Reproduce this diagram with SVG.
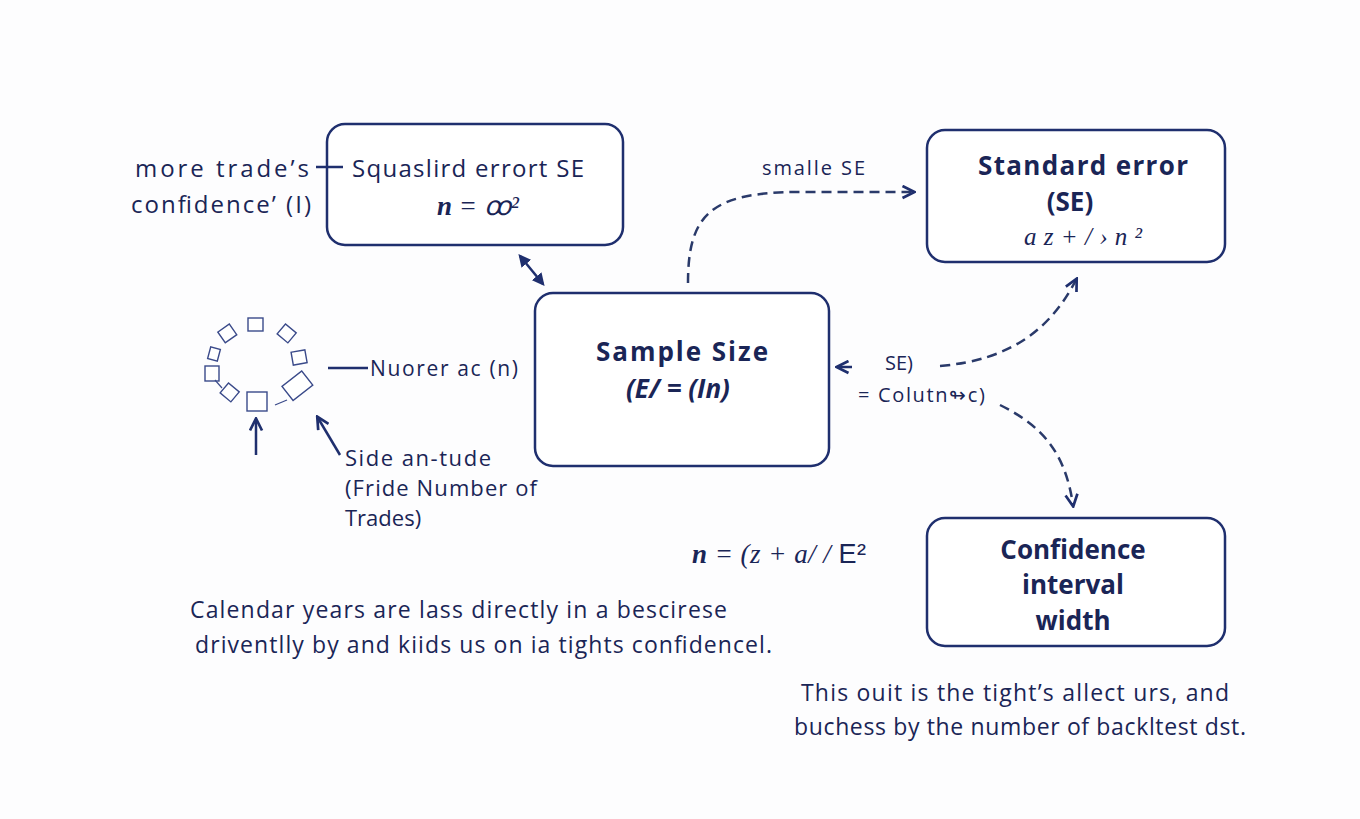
<svg xmlns="http://www.w3.org/2000/svg" width="1360" height="819" viewBox="0 0 1360 819">
<defs>
<style>
.box{fill:#fff;stroke:#1f2f6e;stroke-width:2.5}
.t{font-family:"Open Sans","Liberation Sans",sans-serif;fill:#1a2556}
.b{font-weight:bold}
.m{font-family:"Liberation Serif",serif;font-style:italic;fill:#1a2556}
.ln{fill:none;stroke:#1f2f6e;stroke-width:2.5}
.d{fill:none;stroke:#2a3a6a;stroke-width:2.5;stroke-dasharray:10 6}
.sq{fill:#fff;stroke:#3a4a8a;stroke-width:1.4}
</style>
<marker id="a" viewBox="0 0 10 10" refX="8" refY="5" markerWidth="6" markerHeight="6" orient="auto-start-reverse"><path d="M1,1 L9,5 L1,9" fill="none" stroke="#1f2f6e" stroke-width="1.8"/></marker>
<marker id="f" viewBox="0 0 10 10" refX="8" refY="5" markerWidth="5" markerHeight="5" orient="auto-start-reverse"><path d="M0,0 L10,5 L0,10 z" fill="#1f2f6e"/></marker>
</defs>
<rect width="1360" height="819" fill="#fdfdfe"/>
<g id="squares">
<rect class="sq" x="248" y="318" width="15" height="13"/>
<rect class="sq" x="220" y="327" width="14" height="13" transform="rotate(-35 227 333)"/>
<rect class="sq" x="280" y="327" width="14" height="13" transform="rotate(40 287 333)"/>
<rect class="sq" x="209" y="348" width="10" height="12" transform="rotate(15 214 354)"/>
<rect class="sq" x="292" y="351" width="14" height="13" transform="rotate(-10 299 357)"/>
<rect class="sq" x="205" y="366" width="14" height="15"/>
<rect class="sq" x="223" y="386" width="14" height="13" transform="rotate(40 230 392)"/>
<rect class="sq" x="247" y="392" width="20" height="19"/>
<rect class="sq" x="285" y="377" width="25" height="18" transform="rotate(-38 297 386)"/>
<line x1="215" y1="380" x2="222" y2="388" stroke="#3a4a8a" stroke-width="1.2"/>
<line x1="275" y1="405" x2="287" y2="400" stroke="#3a4a8a" stroke-width="1.2"/>
</g>
<g id="n1"><rect class="box" x="327" y="124" width="296" height="121" rx="18"/>
<text class="t" x="468" y="177" font-size="24" text-anchor="middle" textLength="232">Squaslird errort SE</text>
<text class="m" x="478" y="215" font-size="27" text-anchor="middle"><tspan font-weight="bold">n</tspan> = ꝏ²</text></g>
<g id="n2"><rect class="box" x="927" y="130" width="298" height="132" rx="18"/>
<text class="t b" x="1083" y="175" font-size="26" text-anchor="middle" textLength="210">Standard error</text>
<text class="t b" x="1070" y="211" font-size="26" text-anchor="middle">(SE)</text>
<text class="m" x="1083" y="245" font-size="25" text-anchor="middle" textLength="118">a z + / › n ²</text></g>
<g id="n3"><rect class="box" x="535" y="293" width="294" height="173" rx="18"/>
<text class="t b" x="682" y="361" font-size="26" text-anchor="middle" textLength="172">Sample Size</text>
<text class="t b" x="678" y="398" font-size="26" text-anchor="middle" font-style="italic">(E/ = (In)</text></g>
<g id="n4"><rect class="box" x="927" y="518" width="298" height="128" rx="18"/>
<text class="t b" x="1073" y="559" font-size="26" text-anchor="middle">Confidence</text>
<text class="t b" x="1073" y="594" font-size="26" text-anchor="middle">interval</text>
<text class="t b" x="1073" y="630" font-size="26" text-anchor="middle">width</text></g>
<g id="connectors">
<line class="ln" x1="316" y1="167" x2="343" y2="167" stroke-width="1.8"/>
<line class="ln" x1="520" y1="256" x2="543" y2="284" marker-start="url(#f)" marker-end="url(#f)"/>
<path class="d" d="M688,283 C688,215 710,192 800,192 L913,192" marker-end="url(#a)"/>
<path class="d" d="M940,366 C1010,360 1050,330 1076,280" marker-end="url(#a)"/>
<line class="ln" x1="838" y1="367" x2="852" y2="367" stroke-width="2" marker-start="url(#a)"/>
<path class="d" d="M1000,405 C1040,425 1065,450 1073,505" marker-end="url(#a)"/>
<line class="ln" x1="328" y1="368" x2="368" y2="368" stroke-width="1.8"/>
<line class="ln" x1="256" y1="455" x2="256" y2="420" marker-end="url(#a)" stroke-width="2"/>
<line class="ln" x1="340" y1="455" x2="318" y2="418" marker-end="url(#a)" stroke-width="2"/>
</g>
<g id="labels">
<text class="t" x="135" y="177" font-size="24" fill="#2a2a1a" textLength="174">more trade’s</text>
<text class="t" x="131" y="213" font-size="24" textLength="180">confidence’ (I)</text>
<text class="t" x="762" y="175" font-size="20" textLength="103">smalle SE</text>
<text class="t" x="370" y="376" font-size="21" textLength="148">Nuorer ac  (n)</text>
<text class="t" x="345" y="466" font-size="22" textLength="146">Side an-tude</text>
<text class="t" x="345" y="496" font-size="22" textLength="192">(Fride Number of</text>
<text class="t" x="345" y="526" font-size="22">Trades)</text>
<text class="t" x="885" y="370" font-size="20">SE)</text>
<text class="t" x="858" y="402" font-size="20" textLength="127">= Colutn↬c)</text>
<text class="m" x="692" y="563" font-size="27" textLength="174"><tspan font-weight="bold">n</tspan> = (z + a/ / <tspan font-style="normal" font-family="Liberation Sans,sans-serif">E²</tspan></text>
<text class="t" x="190" y="618" font-size="23" textLength="537">Calendar years are lass directly in a bescirese</text>
<text class="t" x="195" y="653" font-size="23" textLength="577">driventlly by and kiids us on ia tights confidencel.</text>
<text class="t" x="801" y="701" font-size="23" textLength="428">This ouit is the tight’s allect urs, and</text>
<text class="t" x="794" y="735" font-size="23" textLength="452">buchess by the number of backltest dst.</text>
</g>
</svg>
